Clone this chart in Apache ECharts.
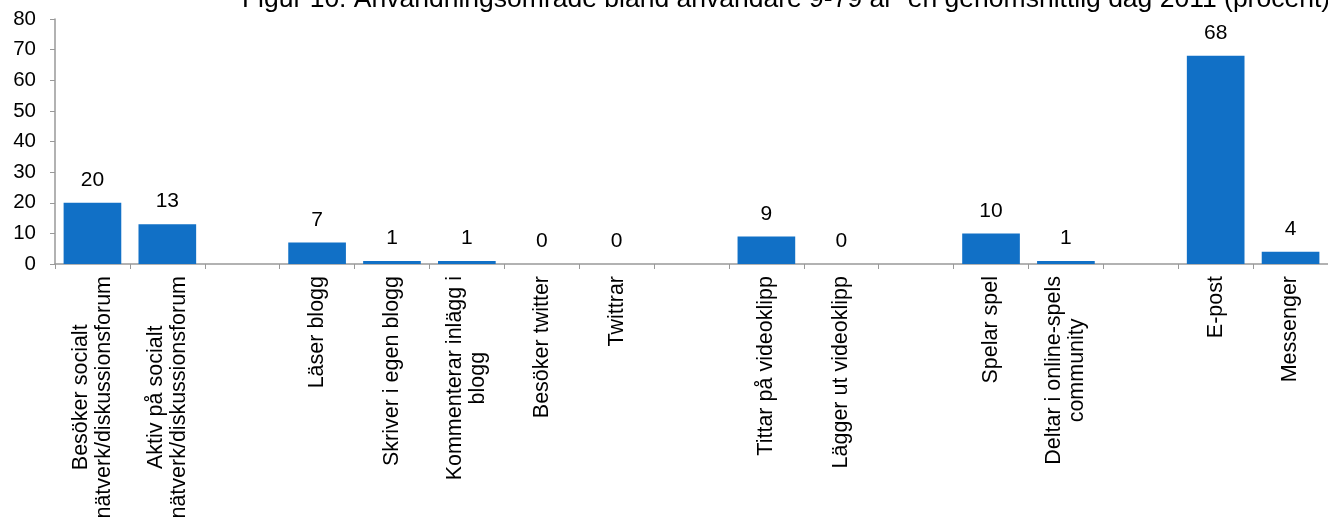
<!DOCTYPE html>
<html>
<head>
<meta charset="utf-8">
<script src="https://cdn.jsdelivr.net/npm/echarts@6/dist/echarts.min.js"></script>
<style>
  html, body { margin: 0; padding: 0; background: #fff; }
  #chart { width: 1328px; height: 524px; }
</style>
</head>
<body>
<div id="chart"></div>
<script>
// Kategorier (tomma strängar = mellanrum mellan grupperna)
const categories = [
    "Besöker socialt\nnätverk/diskussionsforum",
    "Aktiv på socialt\nnätverk/diskussionsforum",
    "",
    "Läser blogg",
    "Skriver i egen blogg",
    "Kommenterar inlägg i\nblogg",
    "Besöker twitter",
    "Twittrar",
    "",
    "Tittar på videoklipp",
    "Lägger ut videoklipp",
    "",
    "Spelar spel",
    "Deltar i online-spels\ncommunity",
    "",
    "E-post",
    "Messenger"
];

// Procent (null = ingen stapel)
const values = [20, 13, null, 7, 1, 1, 0, 0, null, 9, 0, null, 10, 1, null, 68, 4];

const yTicks = [0, 10, 20, 30, 40, 50, 60, 70, 80];

const titleText = "Figur 10. Användningsområde bland användare 9-79 år  en genomsnittlig dag 2011 (procent)";

const chart = echarts.init(document.getElementById("chart"));
const font = "Liberation Sans, Arial, sans-serif";

chart.setOption({
    animation: false,
    title: {
        text: titleText,
        left: 781,
        textAlign: "center",
        top: -19,
        textStyle: { fontFamily: font, fontSize: 26.5, fontWeight: "normal", color: "#000" }
    },
    grid: { left: 55, right: -15, top: 19, bottom: 260, containLabel: false },
    xAxis: {
        type: "category",
        data: categories,
        axisLine: { lineStyle: { color: "#999", width: 1.5 } },
        axisTick: { show: true, length: 5, alignWithLabel: false, lineStyle: { color: "#999" } },
        axisLabel: {
            rotate: 90,
            interval: 0,
            margin: 12,
            fontFamily: font,
            fontSize: 21.5,
            color: "#000",
            lineHeight: 23,
            formatter: v => v.split("\n").map(s => "{c|" + s + "}").join("\n"),
            rich: { c: { align: "center", fontFamily: font, fontSize: 21.5, color: "#000", lineHeight: 23 } }
        }
    },
    yAxis: {
        type: "value",
        min: yTicks[0],
        max: yTicks[yTicks.length - 1],
        interval: 10,
        splitLine: { show: false },
        axisLine: { show: true, lineStyle: { color: "#999", width: 1.5 } },
        axisTick: { show: true, length: 5, lineStyle: { color: "#999" } },
        axisLabel: { margin: 19, fontFamily: font, fontSize: 20.5, color: "#000" }
    },
    series: [{
        type: "bar",
        data: values,
        barCategoryGap: "23%",
        itemStyle: { color: "#1170C6" },
        label: {
            show: true,
            position: "top",
            distance: 12,
            fontFamily: font,
            fontSize: 21,
            color: "#000"
        }
    }]
});
</script>
</body>
</html>
